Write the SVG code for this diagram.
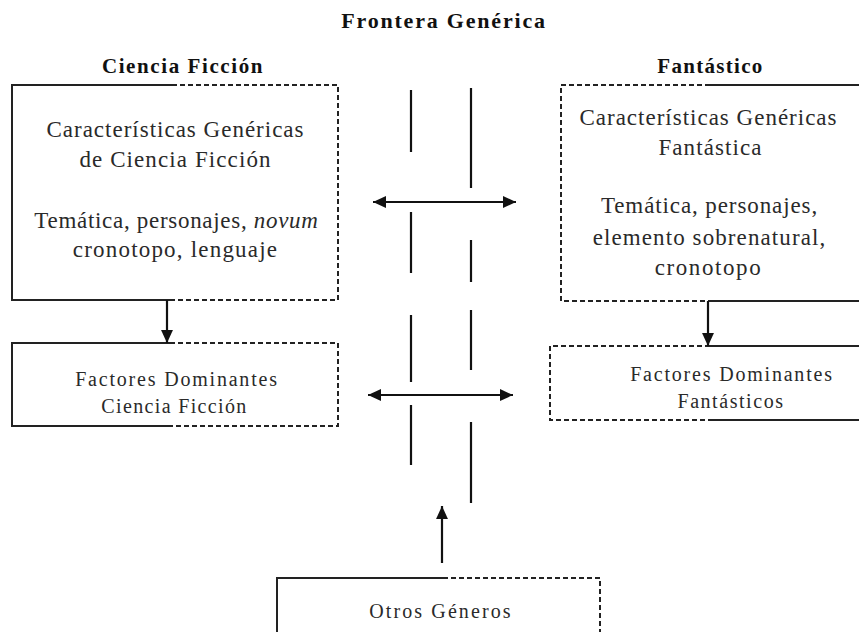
<svg xmlns="http://www.w3.org/2000/svg" width="859" height="632" viewBox="0 0 859 632">
<defs>
<marker id="ah" viewBox="0 0 12 12" refX="12" refY="6" markerWidth="13" markerHeight="13" markerUnits="userSpaceOnUse" orient="auto-start-reverse">
<path d="M0,0.5 L12,6 L0,11.5 Z" fill="#111"/>
</marker>
<style>
.s{stroke:#222;stroke-width:2;fill:none}
.d{stroke:#222;stroke-width:2;fill:none;stroke-dasharray:5 3}
.c{stroke:#111;stroke-width:2.2;fill:none}
.b{font-family:"Liberation Serif";fill:#2a2a2a;text-anchor:middle}
.h{font-family:"Liberation Serif";font-weight:bold;fill:#111;text-anchor:middle}
</style>
</defs>
<rect width="859" height="632" fill="#fff"/>

<text class="h" x="444" y="28" font-size="22" letter-spacing="1.8">Frontera Genérica</text>

<g id="ciencia-ficcion">
<text class="h" x="183" y="73" font-size="21" letter-spacing="1.6">Ciencia Ficción</text>
<path class="s" d="M172,85 H12 V300 H172"/>
<path class="d" d="M172,85 H338 V300 H172"/>
<text class="b" x="175.5" y="137" font-size="23" letter-spacing="1">Características Genéricas</text>
<text class="b" x="175.5" y="167" font-size="23" letter-spacing="1.1">de Ciencia Ficción</text>
<text class="b" x="176.5" y="228" font-size="23" letter-spacing="0.7">Temática, personajes, <tspan font-style="italic">novum</tspan></text>
<text class="b" x="175.5" y="257" font-size="23" letter-spacing="1.2">cronotopo, lenguaje</text>
</g>

<g id="fantastico">
<text class="h" x="710.5" y="73" font-size="21" letter-spacing="1.3">Fantástico</text>
<path class="d" d="M710,85 H561 V301 H710"/>
<path class="s" d="M710,85 H859 M710,301 H859"/>
<text class="b" x="708.5" y="125" font-size="23" letter-spacing="1">Características Genéricas</text>
<text class="b" x="710.5" y="155" font-size="23" letter-spacing="1.1">Fantástica</text>
<text class="b" x="709.5" y="213" font-size="23" letter-spacing="0.9">Temática, personajes,</text>
<text class="b" x="709.5" y="245" font-size="23" letter-spacing="1.1">elemento sobrenatural,</text>
<text class="b" x="708.5" y="275" font-size="23" letter-spacing="1.6">cronotopo</text>
</g>

<g id="factores-cf">
<path class="s" d="M170,343 H12 V426 H172"/>
<path class="d" d="M170,343 H338 V426 H172"/>
<text class="b" x="177" y="386" font-size="20" letter-spacing="1.8">Factores Dominantes</text>
<text class="b" x="174.5" y="413" font-size="20" letter-spacing="1.35">Ciencia Ficción</text>
</g>

<g id="factores-fant">
<path class="d" d="M710,346 H550 V420 H710"/>
<path class="s" d="M710,346 H859 M710,420 H859"/>
<text class="b" x="732" y="381" font-size="20" letter-spacing="1.8">Factores Dominantes</text>
<text class="b" x="731" y="408" font-size="20" letter-spacing="1.55">Fantásticos</text>
</g>

<g id="otros-generos">
<path class="s" d="M443,578 H277 V632"/>
<path class="d" d="M443,578 H600 V632"/>
<text class="b" x="441" y="618" font-size="20" letter-spacing="2.1">Otros Géneros</text>
</g>

<g id="frontera">
<path class="c" d="M411,90 V152 M411,212 V273 M411,315 V382 M411,405 V465"/>
<path class="c" d="M471,88 V188 M471,240 V282 M471,310 V370 M471,422 V503"/>
</g>

<g id="connectors">
<line class="c" x1="373" y1="202" x2="516" y2="202" marker-start="url(#ah)" marker-end="url(#ah)"/>
<line class="c" x1="368" y1="395" x2="513" y2="395" marker-start="url(#ah)" marker-end="url(#ah)"/>
<line class="c" x1="167" y1="300" x2="167" y2="343" marker-end="url(#ah)"/>
<line class="c" x1="708" y1="301" x2="708" y2="346" marker-end="url(#ah)"/>
<line class="c" x1="442" y1="563" x2="442" y2="506" marker-end="url(#ah)"/>
</g>
</svg>
